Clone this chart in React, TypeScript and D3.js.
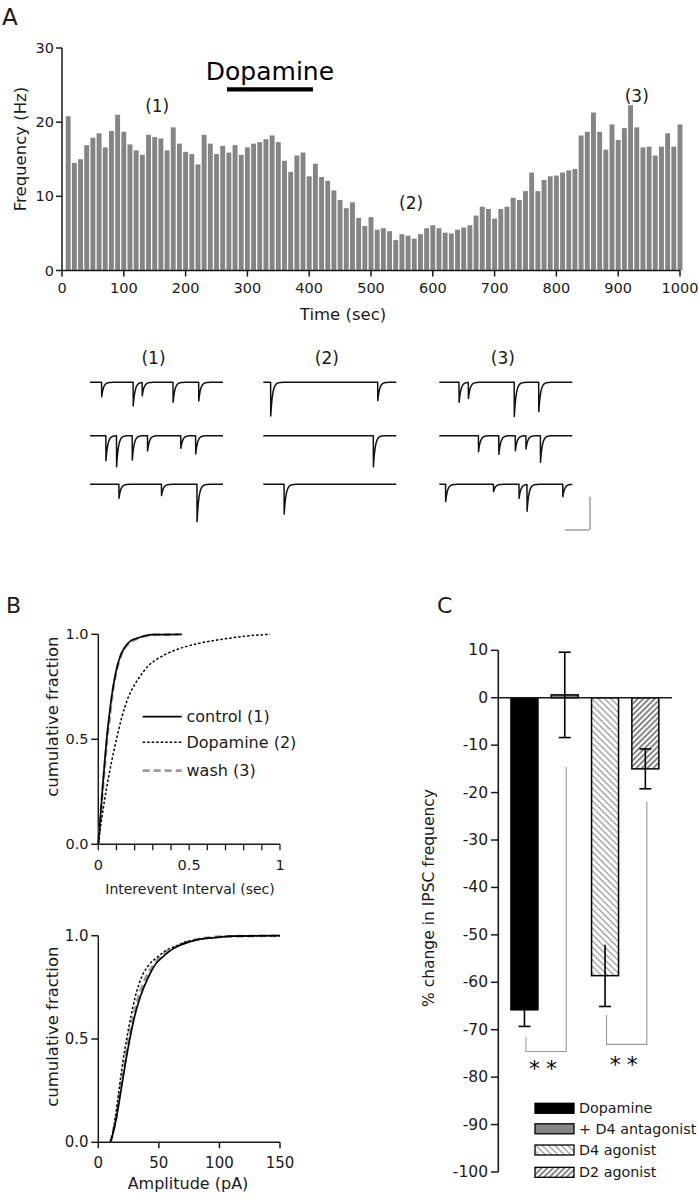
import React from "react";
import * as d3 from "d3";

const SANS = "'DejaVu Sans', sans-serif";
const INK = "#1a1a1a";

// ---------- Panel A: frequency histogram ----------
const binTimesSec = d3.range(10, 1001, 10);
const frequencyHz = [
  20.8, 14.5, 15.0, 16.9, 17.9, 18.5, 16.6, 18.8, 21.0, 18.7,
  17.0, 16.2, 15.6, 18.3, 18.0, 17.8, 16.2, 19.3, 17.1, 16.0,
  15.7, 14.3, 18.3, 17.1, 15.7, 16.8, 15.9, 16.9, 15.6, 16.6,
  17.1, 17.3, 17.7, 18.2, 17.3, 14.8, 13.3, 15.5, 15.9, 12.7,
  14.4, 12.6, 12.1, 10.8, 9.5, 8.4, 9.2, 7.1, 6.0, 7.2,
  5.5, 5.7, 5.3, 4.1, 4.9, 4.7, 4.3, 4.9, 5.7, 6.1,
  5.7, 5.1, 5.0, 5.5, 5.8, 6.1, 7.4, 8.6, 8.3, 7.0,
  8.3, 8.6, 9.8, 9.5, 10.7, 13.2, 10.7, 12.2, 12.7, 12.8,
  13.2, 13.5, 13.7, 18.2, 18.7, 21.3, 18.7, 16.3, 19.7, 17.6,
  19.2, 22.3, 19.3, 16.6, 16.7, 15.5, 16.7, 18.5, 16.7, 19.7,
];
const freqTicks = [0, 10, 20, 30];
const timeTicks = [0, 100, 200, 300, 400, 500, 600, 700, 800, 900, 1000];
const dopamineWindowSec = [267, 406];
const epochLabels = ["(1)", "(2)", "(3)"];
const epochLabelTimes = [154, 565, 930];
const epochLabelHz = [21.4, 8.3, 22.7];

// ---------- Traces (event time ms, amplitude pA) ----------
const tracesEpoch1 = [
  [[88, 43], [325, 71], [393, 40], [625, 60], [818, 56]],
  [[120, 75], [200, 93], [318, 73], [433, 46], [683, 38], [795, 55]],
  [[218, 42], [538, 34], [805, 112]],
];
const tracesEpoch2 = [
  [[56, 101], [861, 55]],
  [[828, 93]],
  [[157, 89]],
];
const tracesEpoch3 = [
  [[149, 60], [219, 48], [564, 103], [748, 88]],
  [[295, 48], [448, 56], [572, 45], [652, 40], [761, 80]],
  [[48, 52], [408, 22], [600, 42], [660, 80], [929, 37]],
];

// ---------- Panel B: cumulative distributions ----------
const intervalControl = [
  [0, 0], [0.009, 0.1], [0.022, 0.25], [0.034, 0.38], [0.046, 0.5], [0.06, 0.61],
  [0.073, 0.7], [0.092, 0.8], [0.108, 0.86], [0.123, 0.9], [0.14, 0.93],
  [0.156, 0.95], [0.18, 0.97], [0.21, 0.98], [0.26, 0.993], [0.3, 0.998], [0.46, 1.0],
];
const intervalDopamine = [
  [0, 0], [0.01, 0.07], [0.02, 0.13], [0.042, 0.25], [0.07, 0.38], [0.1, 0.5],
  [0.128, 0.6], [0.165, 0.7], [0.2, 0.76], [0.23, 0.8], [0.275, 0.85], [0.32, 0.88],
  [0.36, 0.9], [0.44, 0.93], [0.52, 0.95], [0.6, 0.965], [0.71, 0.98], [0.82, 0.992],
  [0.945, 1.0],
];
const intervalWash = [
  [0, 0], [0.01, 0.1], [0.023, 0.25], [0.036, 0.38], [0.048, 0.5], [0.062, 0.6],
  [0.075, 0.7], [0.094, 0.8], [0.125, 0.9], [0.16, 0.95], [0.215, 0.98],
  [0.3, 0.997], [0.44, 1.0],
];
const ampControl = [
  [10, 0], [12, 0.04], [15, 0.12], [18.7, 0.25], [22, 0.37], [26, 0.5], [30, 0.61],
  [34.4, 0.7], [41.3, 0.8], [47, 0.86], [53.7, 0.9], [60, 0.93], [66, 0.95],
  [75, 0.97], [81, 0.98], [95, 0.99], [111, 0.998], [150, 1.0],
];
const ampDopamine = [
  [10, 0], [12, 0.05], [14, 0.12], [17, 0.25], [20, 0.38], [23.4, 0.5], [27, 0.61],
  [30.3, 0.7], [35.8, 0.8], [42, 0.86], [49.6, 0.9], [56, 0.93], [64.7, 0.95],
  [72, 0.97], [81, 0.98], [95, 0.99], [115, 0.998], [150, 1.0],
];
const ampWash = [
  [10, 0], [12, 0.045], [15, 0.13], [18, 0.25], [21.5, 0.37], [25, 0.5], [29, 0.61],
  [33, 0.7], [39.5, 0.8], [46, 0.86], [52, 0.9], [60, 0.935], [67, 0.955],
  [80, 0.98], [100, 0.995], [150, 1.0],
];
const fractionTicks = [0, 0.5, 1];
const intervalTicks = [0, 0.1, 0.2, 0.3, 0.4, 0.5, 0.6, 0.7, 0.8, 0.9, 1];
const intervalTickLabels = ["0", "", "", "", "", "0.5", "", "", "", "", "1"];
const ampTicks = [0, 50, 100, 150];
const legendBLabels = ["control (1)", "Dopamine (2)", "wash (3)"];

// ---------- Panel C: % change ----------
const conditions = ["Dopamine", "+ D4 antagonist", "D4 agonist", "D2 agonist"];
const pctChange = [-65.8, 0.6, -58.6, -15.0];
const pctSem = [3.5, 9.0, 6.5, 4.2];
const pctTicks = [10, 0, -10, -20, -30, -40, -50, -60, -70, -80, -90, -100];
const bracketPairs = [[0, 1], [2, 3]];
const bracketStart = [-71.5, -66.9];
const bracketLevel = [-74.6, -73.1];
const bracketEnd = [-14.6, -21.9];
const starLevel = [-77.2, -76.3];

const fills = ["#000", "#858585", "url(#hatchBack)", "url(#hatchFwd)"];

function App() {
  // Panel A scales
  const xA = d3.scaleLinear([0, 1000], [62, 680]);
  const yA = d3.scaleLinear([0, 30], [270.5, 48]);
  const barW = 4.9;

  // traces
  const traceCols = [90, 263.3, 439.3];
  const traceRows = [382.3, 435.7, 484.3];
  const TRACE_W = 133;
  const traceSets = [tracesEpoch1, tracesEpoch2, tracesEpoch3];
  const ampScale = d3.scaleLinear([0, 100], [0, 33.3]);
  const tracePath = (events: number[][], x0: number, y0: number) => {
    const xs = d3.scaleLinear([0, 1000], [x0, x0 + TRACE_W]);
    const pts: [number, number][] = [];
    for (let t = 0; t <= 1000; t += 1) {
      let v = 0;
      for (const [t0, a] of events) if (t >= t0) v += a * Math.exp(-(t - t0) / 14);
      pts.push([xs(t), y0 + ampScale(v)]);
    }
    return d3.line()(pts) || "";
  };

  // Panel B scales
  const xB1 = d3.scaleLinear([0, 1], [98.3, 280]);
  const yB1 = d3.scaleLinear([0, 1], [844.3, 634.3]);
  const xB2 = d3.scaleLinear([0, 150], [98.3, 280]);
  const yB2 = d3.scaleLinear([0, 1], [1142.3, 935.7]);
  const mkLine = (xs: any, ys: any) =>
    d3.line<number[]>().x((d) => xs(d[0])).y((d) => ys(d[1])).curve(d3.curveMonotoneX);
  const l1 = mkLine(xB1, yB1);
  const l2 = mkLine(xB2, yB2);
  const styles = [
    { stroke: "#000", width: 1.7, dash: undefined as string | undefined },
    { stroke: "#000", width: 1.5, dash: "2.5,2" },
    { stroke: "#9a9a9a", width: 2.8, dash: "7,4" },
  ];

  // Panel C
  const yC = d3.scaleLinear([-100, 10], [1172, 650.3]);
  const xC = d3.scaleBand(conditions, [504.3, 665.5]).paddingInner(0.33).paddingOuter(0.165);
  const bw = xC.bandwidth();

  return (
    <svg width={699} height={1199} style={{ position: "absolute", left: 0, top: 0, background: "#fff" }}
      fontFamily={SANS}>
      <defs>
        <pattern id="hatchBack" patternUnits="userSpaceOnUse" width={4.5} height={4.5} patternTransform="rotate(-45)">
          <rect width={4.5} height={4.5} fill="#fff" />
          <line x1={1} y1={0} x2={1} y2={4.5} stroke="#6a6a6a" strokeWidth={0.9} />
        </pattern>
        <pattern id="hatchFwd" patternUnits="userSpaceOnUse" width={4} height={4} patternTransform="rotate(45)">
          <rect width={4} height={4} fill="#fff" />
          <line x1={1} y1={0} x2={1} y2={4} stroke="#222" strokeWidth={1.1} />
        </pattern>
      </defs>
      <rect width={699} height={1199} fill="#fff" />

      {/* ===== Panel A ===== */}
      <text x={2} y={25} fontSize={23} fill={INK}>A</text>
      {frequencyHz.map((v, i) => (
        <rect key={i} x={xA(binTimesSec[i]) - barW / 2} y={yA(v)} width={barW} height={yA(0) - yA(v)} fill="#858585" />
      ))}
      <line x1={xA(0)} x2={xA(0)} y1={yA(0)} y2={yA(30)} stroke={INK} strokeWidth={1.5} />
      <line x1={xA(0)} x2={xA(1000)} y1={yA(0)} y2={yA(0)} stroke={INK} strokeWidth={1.5} />
      {freqTicks.map((t) => (
        <g key={t}>
          <line x1={xA(0) - 6} x2={xA(0)} y1={yA(t)} y2={yA(t)} stroke={INK} strokeWidth={1.5} />
          <text x={xA(0) - 8} y={yA(t)} fontSize={14.5} textAnchor="end" dominantBaseline="central" fill={INK}>{t}</text>
        </g>
      ))}
      {timeTicks.map((t) => (
        <g key={t}>
          <line x1={xA(t)} x2={xA(t)} y1={yA(0)} y2={yA(0) + 6} stroke={INK} strokeWidth={1.5} />
          <text x={xA(t)} y={293} fontSize={14.5} textAnchor="middle" fill={INK}>{t}</text>
        </g>
      ))}
      <text transform={`translate(20,${149}) rotate(-90)`} fontSize={16.5} textAnchor="middle" dominantBaseline="central" fill={INK}>Frequency (Hz)</text>
      <text x={343} y={320} fontSize={16.5} textAnchor="middle" fill={INK}>Time (sec)</text>
      <text x={xA((dopamineWindowSec[0] + dopamineWindowSec[1]) / 2)} y={80} fontSize={25} textAnchor="middle" fill="#000">Dopamine</text>
      <line x1={xA(dopamineWindowSec[0])} x2={xA(dopamineWindowSec[1])} y1={89.3} y2={89.3} stroke="#000" strokeWidth={4.3} />
      {epochLabels.map((l, i) => (
        <text key={l} x={xA(epochLabelTimes[i])} y={yA(epochLabelHz[i])} fontSize={17} textAnchor="middle" fill={INK}>{l}</text>
      ))}

      {/* ===== Traces ===== */}
      {epochLabels.map((l, c) => (
        <text key={"tl" + c} x={traceCols[c] + TRACE_W / 2 - 3} y={364} fontSize={17} textAnchor="middle" fill={INK}>{l}</text>
      ))}
      {traceSets.map((set, c) =>
        set.map((ev, r) => (
          <path key={`${c}-${r}`} d={tracePath(ev, traceCols[c], traceRows[r])} fill="none" stroke="#111" strokeWidth={1.5} strokeLinejoin="round" />
        ))
      )}
      <line x1={590} x2={590} y1={496.7} y2={530} stroke="#8a8a8a" strokeWidth={1.2} />
      <line x1={565} x2={589} y1={530} y2={530} stroke="#8a8a8a" strokeWidth={1.2} />

      {/* ===== Panel B top ===== */}
      <text x={6} y={613} fontSize={22} fill={INK}>B</text>
      <line x1={xB1(0)} x2={xB1(0)} y1={yB1(0)} y2={yB1(1)} stroke={INK} strokeWidth={1.5} />
      <line x1={xB1(0)} x2={xB1(1)} y1={yB1(0)} y2={yB1(0)} stroke={INK} strokeWidth={1.5} />
      {fractionTicks.map((t) => (
        <g key={t}>
          <line x1={xB1(0) - 7} x2={xB1(0)} y1={yB1(t)} y2={yB1(t)} stroke={INK} strokeWidth={1.5} />
          <text x={88.5} y={yB1(t)} fontSize={14.5} textAnchor="end" dominantBaseline="central" fill={INK}>{t.toFixed(1)}</text>
        </g>
      ))}
      {intervalTicks.map((t, i) => (
        <g key={t}>
          <line x1={xB1(t)} x2={xB1(t)} y1={yB1(0)} y2={yB1(0) + 6} stroke={INK} strokeWidth={1.3} />
          <text x={xB1(t)} y={870} fontSize={14.5} textAnchor="middle" fill={INK}>{intervalTickLabels[i]}</text>
        </g>
      ))}
      {[intervalWash, intervalDopamine, intervalControl].map((d, k) => {
        const s = styles[2 - k];
        return <path key={k} d={l1(d) || ""} fill="none" stroke={s.stroke} strokeWidth={s.width} strokeDasharray={s.dash} />;
      })}
      <text transform={`translate(52,716.7) rotate(-90)`} fontSize={16.5} textAnchor="middle" dominantBaseline="central" fill={INK}>cumulative fraction</text>
      <text x={190} y={894} fontSize={14} textAnchor="middle" fill={INK}>Interevent Interval (sec)</text>
      {legendBLabels.map((l, i) => (
        <g key={l}>
          <line x1={142.7} x2={181.7} y1={[716.7, 742.3, 770.7][i]} y2={[716.7, 742.3, 770.7][i]}
            stroke={styles[i].stroke} strokeWidth={styles[i].width} strokeDasharray={styles[i].dash} />
          <text x={186.5} y={[716.7, 742.3, 770.7][i]} fontSize={16} dominantBaseline="central" fill={INK}>{l}</text>
        </g>
      ))}

      {/* ===== Panel B bottom ===== */}
      <line x1={xB2(0)} x2={xB2(0)} y1={yB2(0)} y2={yB2(1)} stroke={INK} strokeWidth={1.5} />
      <line x1={xB2(0)} x2={xB2(150)} y1={yB2(0)} y2={yB2(0)} stroke={INK} strokeWidth={1.5} />
      {fractionTicks.map((t) => (
        <g key={t}>
          <line x1={xB2(0) - 7} x2={xB2(0)} y1={yB2(t)} y2={yB2(t)} stroke={INK} strokeWidth={1.5} />
          <text x={88.5} y={yB2(t)} fontSize={15} textAnchor="end" dominantBaseline="central" fill={INK}>{t.toFixed(1)}</text>
        </g>
      ))}
      {ampTicks.map((t) => (
        <g key={t}>
          <line x1={xB2(t)} x2={xB2(t)} y1={yB2(0)} y2={yB2(0) + 6} stroke={INK} strokeWidth={1.5} />
          <text x={xB2(t)} y={1168} fontSize={15} textAnchor="middle" fill={INK}>{t}</text>
        </g>
      ))}
      {[ampWash, ampDopamine, ampControl].map((d, k) => {
        const s = styles[2 - k];
        return <path key={k} d={l2(d) || ""} fill="none" stroke={s.stroke} strokeWidth={s.width} strokeDasharray={s.dash} />;
      })}
      <text transform={`translate(52,1026.7) rotate(-90)`} fontSize={16.5} textAnchor="middle" dominantBaseline="central" fill={INK}>cumulative fraction</text>
      <text x={188} y={1189} fontSize={16} textAnchor="middle" fill={INK}>Amplitude (pA)</text>

      {/* ===== Panel C ===== */}
      <text x={437} y={613} fontSize={22} fill={INK}>C</text>
      <line x1={498.3} x2={498.3} y1={yC(10)} y2={yC(-100)} stroke={INK} strokeWidth={1.6} />
      {pctTicks.map((t) => (
        <g key={t}>
          <line x1={491} x2={498.3} y1={yC(t)} y2={yC(t)} stroke={INK} strokeWidth={1.5} />
          <text x={488} y={yC(t)} fontSize={15.5} textAnchor="end" dominantBaseline="central" fill={INK}>{t}</text>
        </g>
      ))}
      <text transform={`translate(429,898) rotate(-90)`} fontSize={15.5} textAnchor="middle" dominantBaseline="central" fill={INK}>% change in IPSC frequency</text>
      {conditions.map((c, i) => {
        const v = pctChange[i];
        const x = xC(c) as number;
        return (
          <rect key={c} x={x} y={yC(Math.max(0, v))} width={bw} height={Math.abs(yC(v) - yC(0))}
            fill={fills[i]} stroke="#000" strokeWidth={1.5} />
        );
      })}
      <line x1={498.3} x2={672} y1={yC(0)} y2={yC(0)} stroke={INK} strokeWidth={1.6} />
      {conditions.map((c, i) => {
        const cx = (xC(c) as number) + bw / 2;
        const lo = pctChange[i] - pctSem[i];
        const hi = pctChange[i] + pctSem[i];
        return (
          <g key={"e" + c} stroke="#000" strokeWidth={1.6}>
            <line x1={cx} x2={cx} y1={yC(hi)} y2={yC(lo)} />
            <line x1={cx - 6} x2={cx + 6} y1={yC(lo)} y2={yC(lo)} />
            {i % 2 === 1 && <line x1={cx - 6} x2={cx + 6} y1={yC(hi)} y2={yC(hi)} />}
          </g>
        );
      })}
      {bracketPairs.map(([a, b], k) => {
        const xa = (xC(conditions[a]) as number) + bw / 2 + 1.5;
        const xb = (xC(conditions[b]) as number) + bw / 2 + 1.5;
        const p = d3.path();
        p.moveTo(xa, yC(bracketStart[k]));
        p.lineTo(xa, yC(bracketLevel[k]));
        p.lineTo(xb, yC(bracketLevel[k]));
        p.lineTo(xb, yC(bracketEnd[k]));
        return (
          <g key={"b" + k}>
            <path d={p.toString()} fill="none" stroke="#9a9a9a" strokeWidth={1.1} />
            <text x={(xa + xb) / 2} y={yC(starLevel[k]) + 12} fontSize={22} textAnchor="middle" letterSpacing={6} fill="#000">**</text>
          </g>
        );
      })}
      {conditions.map((c, i) => {
        const cy = [1108.3, 1128.8, 1150, 1172.3][i];
        return (
          <g key={"lg" + c}>
            <rect x={535} y={cy - 5} width={39} height={10} fill={fills[i]} stroke="#000" strokeWidth={1.3} />
            <text x={579} y={cy} fontSize={14.3} dominantBaseline="central" fill={INK}>{c}</text>
          </g>
        );
      })}
    </svg>
  );
}

export default App;
